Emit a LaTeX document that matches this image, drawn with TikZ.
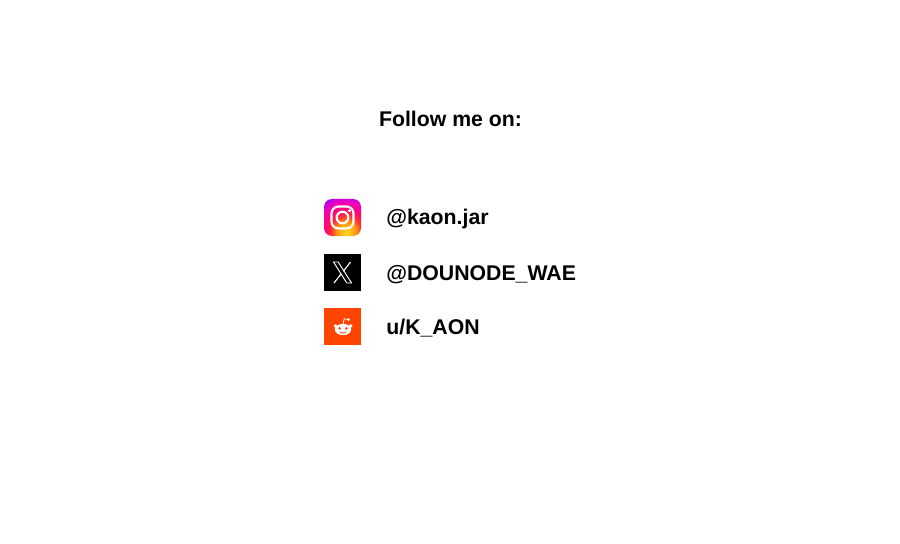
\documentclass[tikz,border=0pt]{standalone}
\usepackage{fontspec}
\setmainfont{Liberation Sans}
\definecolor{reddit_orange}{HTML}{FF4500}
\pgfdeclareradialshading{insta_glow}{\pgfpoint{6bp}{-22bp}}{
    rgb(0bp)=(1,0.85,0.15);
    rgb(13bp)=(1,0.6,0.05);
    rgb(20bp)=(1,0.2,0.2);
    rgb(27bp)=(1,0.03,0.45);
    rgb(35bp)=(0.95,0,0.72);
    rgb(41bp)=(0.75,0,0.88);
    rgb(47bp)=(0.5,0.05,1);
    rgb(100bp)=(0.5,0.05,1)}
\tikzset{
    handle/.style={anchor=base west, inner sep=0pt, font=\fontsize{12.1}{15}\selectfont\bfseries},
    icon/.style={minimum size=37*0.02cm, inner sep=0pt, outer sep=0pt},
}

\begin{document}
\begin{tikzpicture}[x=0.02cm, y=-0.02cm]
    \useasboundingbox (0, 0) rectangle (900, 544);

    \node[inner sep=0pt, anchor=base, font=\fontsize{12.1}{15}\selectfont\bfseries] (title) at (450.5, 127) {Follow me on:};

    \node[icon, rounded corners=0.16cm, shading=insta_glow] (insta) at (342.5, 217.5) {};
    \node[icon, fill=black] (xlogo) at (342.5, 272) {};
    \node[icon, fill=reddit_orange] (reddit) at (342.5, 326.5) {};

    \node[handle] (h_insta) at (386, 225) {@kaon.jar};
    \node[handle] (h_x) at (386, 280) {@DOUNODE\_WAE};
    \node[handle] (h_reddit) at (386, 334) {u/K\_AON};

    % instagram glyph
    \draw[white, line width=1.25pt, rounded corners=0.14cm] (331.5, 206.5) rectangle (353.5, 228.5);
    \draw[white, line width=1.25pt] (insta.center) circle (5.8);
    \fill[white] (349.4, 210.8) circle (1.6);

    % x glyph
    \draw[white, line width=0.55pt, line join=miter] (333.5, 262) -- (338.2, 262) -- (351.5, 283) -- (346.8, 283) -- cycle;
    \draw[white, line width=0.65pt] (350.5, 262) -- (343.4, 271.2);
    \draw[white, line width=0.65pt] (341.2, 273.8) -- (334, 283);

    % reddit glyph
    \fill[white] (343, 329.5) ellipse (8.2 and 5.6);
    \fill[white] (335.4, 326) circle (1.9);
    \fill[white] (350.6, 326) circle (1.9);
    \fill[white] (348.5, 319.6) circle (1.5);
    \draw[white, line width=0.45pt] (343, 324) -- (344.2, 318.8) -- (348.5, 319.6);
    \fill[reddit_orange] (339.6, 328.4) circle (1.35);
    \fill[reddit_orange] (346.4, 328.4) circle (1.35);
    \draw[reddit_orange, line width=0.45pt] (339.8, 332) .. controls (341.5, 333.6) and (344.5, 333.6) .. (346.2, 332);
\end{tikzpicture}
\end{document}
